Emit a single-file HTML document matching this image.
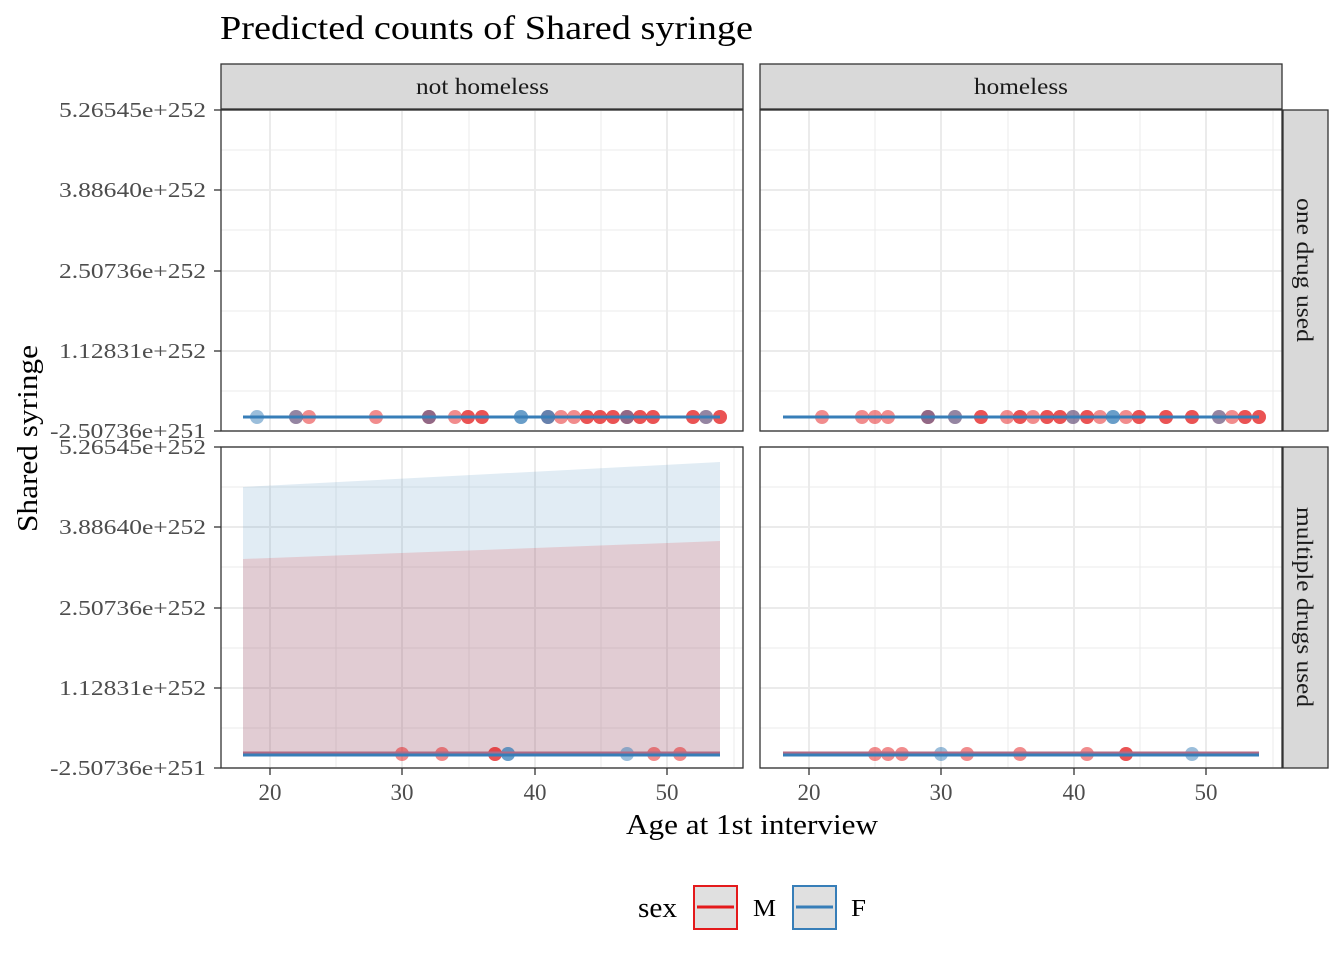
<!DOCTYPE html>
<html><head><meta charset="utf-8"><style>body{margin:0;background:#fff}svg{display:block}text{font-family:"Liberation Serif",serif}</style></head><body>
<svg width="1344" height="960" xmlns="http://www.w3.org/2000/svg">
<rect width="1344" height="960" fill="#fff"/>
<defs>
<g id="grid">
<g stroke="#ebebeb" stroke-width="1">
<line x1="336" x2="336" y1="0" y2="321"/><line x1="469" x2="469" y1="0" y2="321"/><line x1="601" x2="601" y1="0" y2="321"/><line x1="734" x2="734" y1="0" y2="321"/>
<line x1="221" x2="743" y1="40" y2="40"/><line x1="221" x2="743" y1="120" y2="120"/><line x1="221" x2="743" y1="201" y2="201"/><line x1="221" x2="743" y1="281" y2="281"/>
</g>
<g stroke="#ebebeb" stroke-width="2">
<line x1="270" x2="270" y1="0" y2="321"/><line x1="402" x2="402" y1="0" y2="321"/><line x1="535" x2="535" y1="0" y2="321"/><line x1="667" x2="667" y1="0" y2="321"/>
<line x1="221" x2="743" y1="0" y2="0"/><line x1="221" x2="743" y1="80" y2="80"/><line x1="221" x2="743" y1="161" y2="161"/><line x1="221" x2="743" y1="241" y2="241"/><line x1="221" x2="743" y1="321" y2="321"/>
</g>
</g>
</defs>
<text x="220" y="39" font-size="34" fill="#000" textLength="533" lengthAdjust="spacingAndGlyphs">Predicted counts of Shared syringe</text>
<g transform="translate(0,110)"><use href="#grid"/></g>
<g transform="translate(539,110)"><use href="#grid"/></g>
<g transform="translate(0,447)"><use href="#grid"/></g>
<g transform="translate(539,447)"><use href="#grid"/></g>
<polygon points="243,487 720,462 720,754 243,754" fill="#377EB8" fill-opacity="0.15"/>
<polygon points="243,559 720,541 720,754 243,754" fill="#E41A1C" fill-opacity="0.15"/>
<g fill-opacity="0.5">
<g fill="#E41A1C">
<circle cx="296" cy="417" r="7"/><circle cx="309" cy="417" r="7"/><circle cx="376" cy="417" r="7"/><circle cx="429" cy="417" r="7"/><circle cx="455" cy="417" r="7"/><circle cx="468" cy="417" r="7"/><circle cx="468" cy="417" r="7"/><circle cx="482" cy="417" r="7"/><circle cx="482" cy="417" r="7"/><circle cx="561" cy="417" r="7"/><circle cx="574" cy="417" r="7"/><circle cx="587" cy="417" r="7"/><circle cx="587" cy="417" r="7"/><circle cx="600" cy="417" r="7"/><circle cx="600" cy="417" r="7"/><circle cx="613" cy="417" r="7"/><circle cx="613" cy="417" r="7"/><circle cx="627" cy="417" r="7"/><circle cx="627" cy="417" r="7"/><circle cx="640" cy="417" r="7"/><circle cx="640" cy="417" r="7"/><circle cx="653" cy="417" r="7"/><circle cx="653" cy="417" r="7"/><circle cx="693" cy="417" r="7"/><circle cx="693" cy="417" r="7"/><circle cx="706" cy="417" r="7"/><circle cx="720" cy="417" r="7"/><circle cx="720" cy="417" r="7"/><circle cx="429" cy="417" r="7"/><circle cx="548" cy="417" r="7"/>
</g>
<g fill="#377EB8">
<circle cx="257" cy="417" r="7"/><circle cx="296" cy="417" r="7"/><circle cx="429" cy="417" r="7"/><circle cx="521" cy="417" r="7"/><circle cx="521" cy="417" r="7"/><circle cx="548" cy="417" r="7"/><circle cx="548" cy="417" r="7"/><circle cx="627" cy="417" r="7"/><circle cx="706" cy="417" r="7"/>
</g>
<g fill="#E41A1C">
<circle cx="822" cy="417" r="7"/><circle cx="862" cy="417" r="7"/><circle cx="875" cy="417" r="7"/><circle cx="888" cy="417" r="7"/><circle cx="928" cy="417" r="7"/><circle cx="955" cy="417" r="7"/><circle cx="981" cy="417" r="7"/><circle cx="981" cy="417" r="7"/><circle cx="1007" cy="417" r="7"/><circle cx="1020" cy="417" r="7"/><circle cx="1020" cy="417" r="7"/><circle cx="1033" cy="417" r="7"/><circle cx="1047" cy="417" r="7"/><circle cx="1047" cy="417" r="7"/><circle cx="1060" cy="417" r="7"/><circle cx="1060" cy="417" r="7"/><circle cx="1073" cy="417" r="7"/><circle cx="1087" cy="417" r="7"/><circle cx="1087" cy="417" r="7"/><circle cx="1100" cy="417" r="7"/><circle cx="1126" cy="417" r="7"/><circle cx="1139" cy="417" r="7"/><circle cx="1139" cy="417" r="7"/><circle cx="1166" cy="417" r="7"/><circle cx="1166" cy="417" r="7"/><circle cx="1192" cy="417" r="7"/><circle cx="1192" cy="417" r="7"/><circle cx="1219" cy="417" r="7"/><circle cx="1232" cy="417" r="7"/><circle cx="1245" cy="417" r="7"/><circle cx="1245" cy="417" r="7"/><circle cx="1259" cy="417" r="7"/><circle cx="1259" cy="417" r="7"/><circle cx="928" cy="417" r="7"/>
</g>
<g fill="#377EB8">
<circle cx="928" cy="417" r="7"/><circle cx="955" cy="417" r="7"/><circle cx="1073" cy="417" r="7"/><circle cx="1113" cy="417" r="7"/><circle cx="1113" cy="417" r="7"/><circle cx="1219" cy="417" r="7"/>
</g>
<g fill="#E41A1C">
<circle cx="402" cy="754" r="7"/><circle cx="442" cy="754" r="7"/><circle cx="495" cy="754" r="7"/><circle cx="495" cy="754" r="7"/><circle cx="654" cy="754" r="7"/><circle cx="680" cy="754" r="7"/>
</g>
<g fill="#377EB8"><circle cx="508" cy="754" r="7"/><circle cx="508" cy="754" r="7"/><circle cx="627" cy="754" r="7"/></g>
<g fill="#E41A1C">
<circle cx="875" cy="754" r="7"/><circle cx="888" cy="754" r="7"/><circle cx="902" cy="754" r="7"/><circle cx="967" cy="754" r="7"/><circle cx="1020" cy="754" r="7"/><circle cx="1087" cy="754" r="7"/><circle cx="1126" cy="754" r="7"/><circle cx="1126" cy="754" r="7"/>
</g>
<g fill="#377EB8"><circle cx="941" cy="754" r="7"/><circle cx="1192" cy="754" r="7"/></g>
</g>
<line x1="243" x2="720" y1="417" y2="417" stroke="#377EB8" stroke-width="3"/>
<line x1="783" x2="1259" y1="417" y2="417" stroke="#377EB8" stroke-width="3"/>
<line x1="243" x2="720" y1="753" y2="753" stroke="#b06a85" stroke-width="3"/>
<line x1="243" x2="720" y1="755" y2="755" stroke="#377EB8" stroke-width="3"/>
<line x1="783" x2="1259" y1="753" y2="753" stroke="#b06a85" stroke-width="3"/>
<line x1="783" x2="1259" y1="755" y2="755" stroke="#377EB8" stroke-width="3"/>
<g fill="none" stroke="#333" stroke-width="1.3">
<rect x="221" y="110" width="522" height="321"/><rect x="760" y="110" width="522" height="321"/>
<rect x="221" y="447" width="522" height="321"/><rect x="760" y="447" width="522" height="321"/>
</g>
<g fill="#d9d9d9" stroke="#333" stroke-width="1.3">
<rect x="221" y="64" width="522" height="45"/><rect x="760" y="64" width="522" height="45"/>
<rect x="1283" y="110" width="45" height="321"/><rect x="1283" y="447" width="45" height="321"/>
</g>
<g font-size="23" fill="#1a1a1a" lengthAdjust="spacingAndGlyphs">
<text x="416" y="94" textLength="133" lengthAdjust="spacingAndGlyphs">not homeless</text>
<text x="974" y="94" textLength="94" lengthAdjust="spacingAndGlyphs">homeless</text>
<text transform="translate(1297,198) rotate(90)" textLength="144" lengthAdjust="spacingAndGlyphs">one drug used</text>
<text transform="translate(1297,507) rotate(90)" textLength="200" lengthAdjust="spacingAndGlyphs">multiple drugs used</text>
</g>
<g font-size="21" fill="#4d4d4d">
<text x="59" y="117" textLength="147" lengthAdjust="spacingAndGlyphs">5.26545e+252</text>
<text x="59" y="197" textLength="147" lengthAdjust="spacingAndGlyphs">3.88640e+252</text>
<text x="59" y="278" textLength="147" lengthAdjust="spacingAndGlyphs">2.50736e+252</text>
<text x="59" y="358" textLength="147" lengthAdjust="spacingAndGlyphs">1.12831e+252</text>
<text x="50" y="438" textLength="156" lengthAdjust="spacingAndGlyphs">-2.50736e+251</text>
<text x="59" y="454" textLength="147" lengthAdjust="spacingAndGlyphs">5.26545e+252</text>
<text x="59" y="534" textLength="147" lengthAdjust="spacingAndGlyphs">3.88640e+252</text>
<text x="59" y="615" textLength="147" lengthAdjust="spacingAndGlyphs">2.50736e+252</text>
<text x="59" y="695" textLength="147" lengthAdjust="spacingAndGlyphs">1.12831e+252</text>
<text x="50" y="775" textLength="156" lengthAdjust="spacingAndGlyphs">-2.50736e+251</text>
</g>
<g stroke="#333" stroke-width="1.3">
<line x1="214" x2="221" y1="110" y2="110"/><line x1="214" x2="221" y1="190" y2="190"/><line x1="214" x2="221" y1="271" y2="271"/><line x1="214" x2="221" y1="351" y2="351"/><line x1="214" x2="221" y1="431" y2="431"/>
<line x1="214" x2="221" y1="447" y2="447"/><line x1="214" x2="221" y1="527" y2="527"/><line x1="214" x2="221" y1="608" y2="608"/><line x1="214" x2="221" y1="688" y2="688"/><line x1="214" x2="221" y1="768" y2="768"/>
<line x1="270" x2="270" y1="768" y2="775"/><line x1="402" x2="402" y1="768" y2="775"/><line x1="535" x2="535" y1="768" y2="775"/><line x1="667" x2="667" y1="768" y2="775"/>
<line x1="809" x2="809" y1="768" y2="775"/><line x1="941" x2="941" y1="768" y2="775"/><line x1="1074" x2="1074" y1="768" y2="775"/><line x1="1206" x2="1206" y1="768" y2="775"/>
</g>
<g font-size="23" fill="#4d4d4d" text-anchor="middle">
<text x="270" y="800">20</text><text x="402" y="800">30</text><text x="535" y="800">40</text><text x="667" y="800">50</text>
<text x="809" y="800">20</text><text x="941" y="800">30</text><text x="1074" y="800">40</text><text x="1206" y="800">50</text>
</g>
<text x="626" y="834" font-size="28" fill="#000" textLength="252" lengthAdjust="spacingAndGlyphs">Age at 1st interview</text>
<text transform="translate(37,532) rotate(-90)" font-size="28" fill="#000" textLength="187" lengthAdjust="spacingAndGlyphs">Shared syringe</text>
<text x="638" y="917" font-size="28" fill="#000" textLength="39" lengthAdjust="spacingAndGlyphs">sex</text>
<rect x="694" y="886" width="43" height="43" fill="#e0e0e0" stroke="#E41A1C" stroke-width="2"/>
<line x1="697" x2="734" y1="907" y2="907" stroke="#E41A1C" stroke-width="3"/>
<text x="753" y="916" font-size="24" fill="#000" textLength="23" lengthAdjust="spacingAndGlyphs">M</text>
<rect x="793" y="886" width="43" height="43" fill="#e0e0e0" stroke="#377EB8" stroke-width="2"/>
<line x1="796" x2="833" y1="907" y2="907" stroke="#377EB8" stroke-width="3"/>
<text x="851" y="916" font-size="24" fill="#000" textLength="15" lengthAdjust="spacingAndGlyphs">F</text>
</svg>
</body></html>
